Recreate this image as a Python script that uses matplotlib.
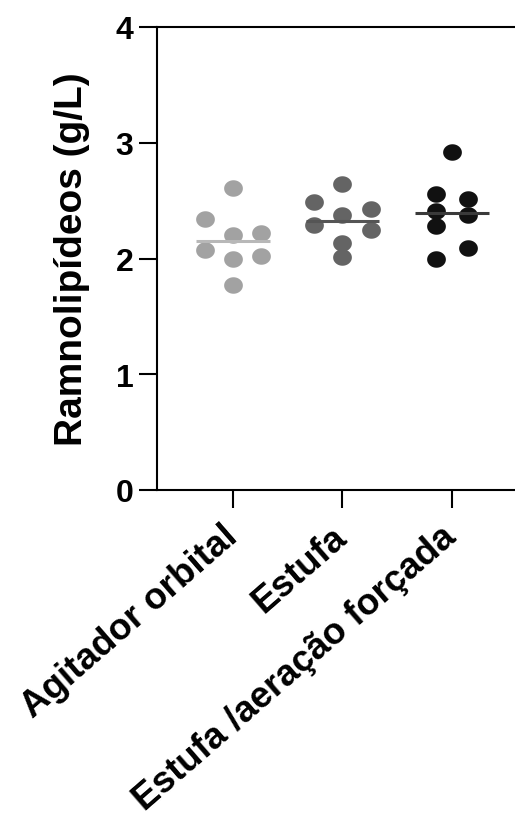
import matplotlib
matplotlib.use("Agg")
import matplotlib.pyplot as plt
import numpy as np
from matplotlib.path import Path

plt.rcParams['font.family'] = ['Liberation Sans', 'DejaVu Sans']
plt.rcParams['font.weight'] = 'bold'

categories = ["Agitador orbital", "Estufa", "Estufa /aeração forçada"]

agitador = [2.61, 2.34, 2.20, 2.22, 2.07, 2.00, 2.02, 1.77]
estufa = [2.64, 2.49, 2.43, 2.38, 2.29, 2.25, 2.13, 2.01]
estufa_aer = [2.92, 2.56, 2.51, 2.41, 2.38, 2.28, 2.09, 2.00]

y_ticks = [0, 1, 2, 3, 4]

# layout only: horizontal scatter of the dots around each category
offsets = [
    [0, -0.26, 0, 0.26, -0.26, 0, 0.26, 0],
    [0, -0.26, 0.26, 0, -0.26, 0.26, 0, 0],
    [0, -0.15, 0.15, -0.15, 0.15, -0.15, 0.15, -0.15],
]
dot_colors = ["#a2a2a2", "#646464", "#111111"]
line_colors = ["#b8b8b8", "#555555", "#3a3a3a"]

# slightly wide ellipse (the reference is stretched horizontally)
t = np.linspace(0, 2 * np.pi, 60)
ellipse = Path(np.column_stack([np.cos(t), 0.88 * np.sin(t)]), closed=True)

fig = plt.figure(figsize=(5.15, 8.28), dpi=100)
ax = fig.add_axes([157 / 515, 337 / 828, 363 / 515, 463 / 828])

groups = [agitador, estufa, estufa_aer]
for i, vals in enumerate(groups):
    xs = i + np.array(offsets[i])
    ax.plot(xs, vals, ls='none', marker=ellipse, ms=13.5,
            color=dot_colors[i], mec='none', zorder=3)
    m = np.mean(vals)
    ax.plot([i - 0.335, i + 0.335], [m, m], color=line_colors[i],
            lw=2.2, zorder=4, solid_capstyle='butt')

ax.set_xlim(-0.694, 2.621)
ax.set_ylim(0, 4)
ax.set_yticks(y_ticks)
ax.set_xticks(range(len(categories)))
ax.set_xticklabels(categories, rotation=41, ha='right', va='center',
                   rotation_mode='anchor', fontsize=26.5, fontweight='bold')
ax.set_yticklabels([str(v) for v in y_ticks], fontsize=23, fontweight='bold')

for s in ['left', 'top', 'bottom']:
    ax.spines[s].set_linewidth(1.5)
ax.spines['right'].set_visible(False)

ax.tick_params(axis='y', length=13, width=1.5, pad=4)
ax.tick_params(axis='x', length=13, width=1.5, pad=17)

ax.set_ylabel("Ramnolipídeos (g/L)", fontsize=28, fontweight='bold')
ax.yaxis.set_label_coords(-0.185, 0.5)

fig.savefig("out.png", dpi=100)
